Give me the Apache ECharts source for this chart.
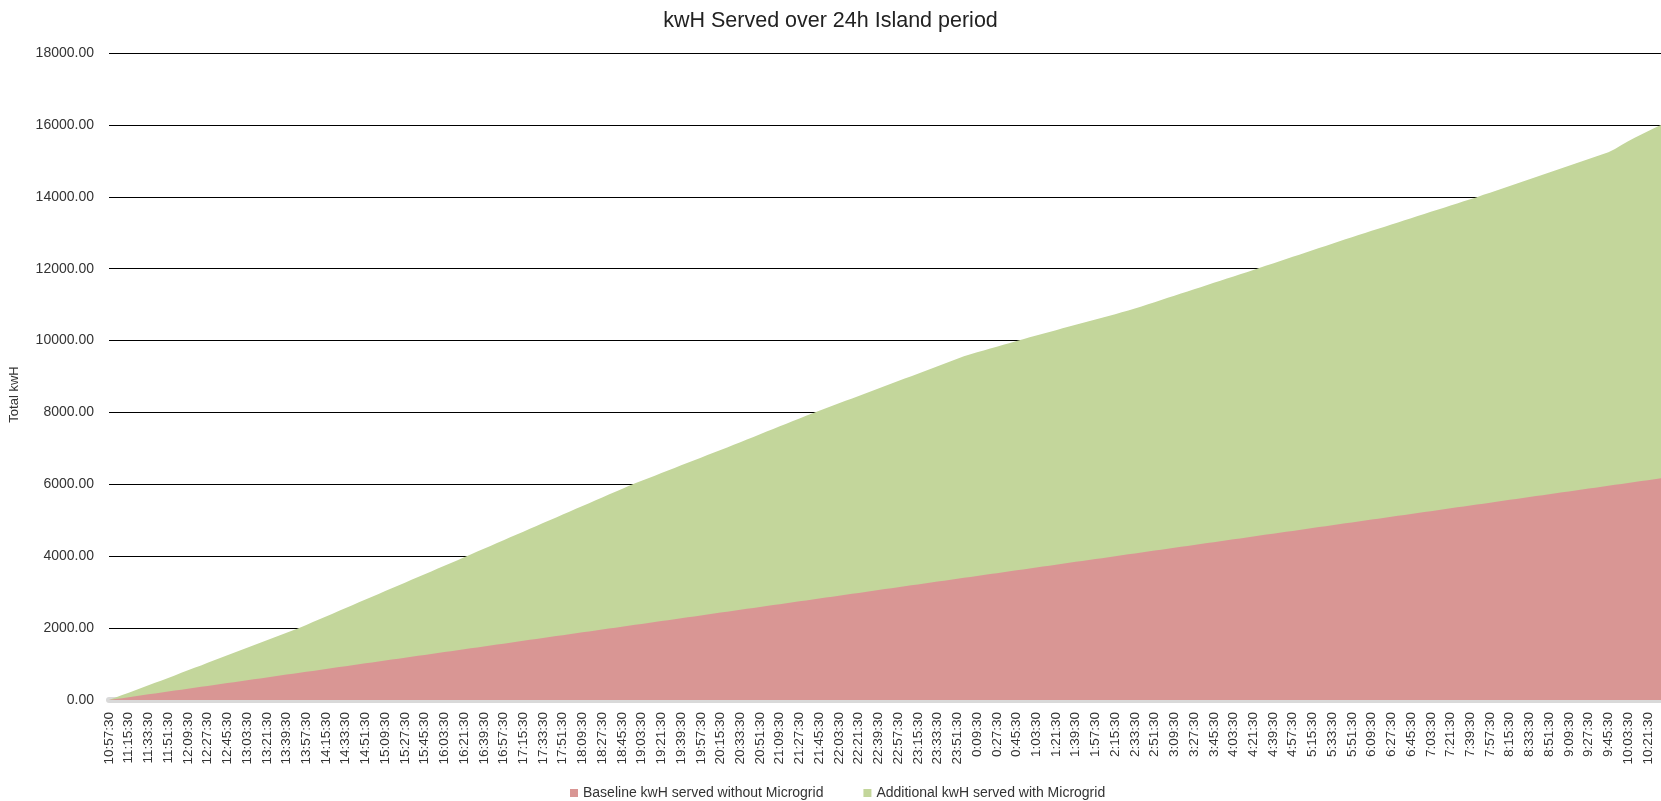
<!DOCTYPE html>
<html>
<head>
<meta charset="utf-8">
<title>kwH Served over 24h Island period</title>
<script src="https://cdn.jsdelivr.net/npm/echarts@6/dist/echarts.min.js"></script>
<style>
  html, body { margin: 0; padding: 0; background: #fff; }
  #chart { width: 1661px; height: 801px; }
</style>
</head>
<body>
<div id="chart"></div>
<script>
// time stamps, one every 6 minutes (labels shown every 3rd = every 18 min)
const times = [
  '10:57:30',
  '11:03:30','11:09:30','11:15:30','11:21:30','11:27:30','11:33:30','11:39:30','11:45:30','11:51:30','11:57:30',
  '12:03:30','12:09:30','12:15:30','12:21:30','12:27:30','12:33:30','12:39:30','12:45:30','12:51:30','12:57:30',
  '13:03:30','13:09:30','13:15:30','13:21:30','13:27:30','13:33:30','13:39:30','13:45:30','13:51:30','13:57:30',
  '14:03:30','14:09:30','14:15:30','14:21:30','14:27:30','14:33:30','14:39:30','14:45:30','14:51:30','14:57:30',
  '15:03:30','15:09:30','15:15:30','15:21:30','15:27:30','15:33:30','15:39:30','15:45:30','15:51:30','15:57:30',
  '16:03:30','16:09:30','16:15:30','16:21:30','16:27:30','16:33:30','16:39:30','16:45:30','16:51:30','16:57:30',
  '17:03:30','17:09:30','17:15:30','17:21:30','17:27:30','17:33:30','17:39:30','17:45:30','17:51:30','17:57:30',
  '18:03:30','18:09:30','18:15:30','18:21:30','18:27:30','18:33:30','18:39:30','18:45:30','18:51:30','18:57:30',
  '19:03:30','19:09:30','19:15:30','19:21:30','19:27:30','19:33:30','19:39:30','19:45:30','19:51:30','19:57:30',
  '20:03:30','20:09:30','20:15:30','20:21:30','20:27:30','20:33:30','20:39:30','20:45:30','20:51:30','20:57:30',
  '21:03:30','21:09:30','21:15:30','21:21:30','21:27:30','21:33:30','21:39:30','21:45:30','21:51:30','21:57:30',
  '22:03:30','22:09:30','22:15:30','22:21:30','22:27:30','22:33:30','22:39:30','22:45:30','22:51:30','22:57:30',
  '23:03:30','23:09:30','23:15:30','23:21:30','23:27:30','23:33:30','23:39:30','23:45:30','23:51:30','23:57:30',
  '0:03:30','0:09:30','0:15:30','0:21:30','0:27:30','0:33:30','0:39:30','0:45:30','0:51:30','0:57:30',
  '1:03:30','1:09:30','1:15:30','1:21:30','1:27:30','1:33:30','1:39:30','1:45:30','1:51:30','1:57:30',
  '2:03:30','2:09:30','2:15:30','2:21:30','2:27:30','2:33:30','2:39:30','2:45:30','2:51:30','2:57:30',
  '3:03:30','3:09:30','3:15:30','3:21:30','3:27:30','3:33:30','3:39:30','3:45:30','3:51:30','3:57:30',
  '4:03:30','4:09:30','4:15:30','4:21:30','4:27:30','4:33:30','4:39:30','4:45:30','4:51:30','4:57:30',
  '5:03:30','5:09:30','5:15:30','5:21:30','5:27:30','5:33:30','5:39:30','5:45:30','5:51:30','5:57:30',
  '6:03:30','6:09:30','6:15:30','6:21:30','6:27:30','6:33:30','6:39:30','6:45:30','6:51:30','6:57:30',
  '7:03:30','7:09:30','7:15:30','7:21:30','7:27:30','7:33:30','7:39:30','7:45:30','7:51:30','7:57:30',
  '8:03:30','8:09:30','8:15:30','8:21:30','8:27:30','8:33:30','8:39:30','8:45:30','8:51:30','8:57:30',
  '9:03:30','9:09:30','9:15:30','9:21:30','9:27:30','9:33:30','9:39:30','9:45:30','9:51:30','9:57:30',
  '10:03:30','10:09:30','10:15:30','10:21:30','10:27:30','10:33:30'
];

// cumulative kWh served without the microgrid (red)
const baseline = [
  0,
  26,52,78,105,131,157,183,209,235,261,
  288,314,340,366,392,418,444,471,497,523,
  549,575,601,627,654,680,706,732,758,784,
  810,836,863,889,915,941,967,993,1019,1046,
  1072,1098,1124,1150,1176,1202,1229,1255,1281,1307,
  1333,1359,1385,1412,1438,1464,1490,1516,1542,1568,
  1595,1621,1647,1673,1699,1725,1751,1778,1804,1830,
  1856,1882,1908,1934,1961,1987,2013,2039,2065,2091,
  2117,2143,2170,2196,2222,2248,2274,2300,2326,2353,
  2379,2405,2431,2457,2483,2509,2536,2562,2588,2614,
  2640,2666,2692,2719,2745,2771,2797,2823,2849,2875,
  2902,2928,2954,2980,3006,3032,3058,3085,3111,3137,
  3163,3189,3215,3241,3268,3294,3320,3346,3372,3398,
  3424,3450,3477,3503,3529,3555,3581,3607,3633,3660,
  3686,3712,3738,3764,3790,3816,3843,3869,3895,3921,
  3947,3973,3999,4026,4052,4078,4104,4130,4156,4182,
  4209,4235,4261,4287,4313,4339,4365,4392,4418,4444,
  4470,4496,4522,4548,4575,4601,4627,4653,4679,4705,
  4731,4757,4784,4810,4836,4862,4888,4914,4940,4967,
  4993,5019,5045,5071,5097,5123,5150,5176,5202,5228,
  5254,5280,5306,5333,5359,5385,5411,5437,5463,5489,
  5516,5542,5568,5594,5620,5646,5672,5699,5725,5751,
  5777,5803,5829,5855,5882,5908,5934,5960,5986,6012,
  6038,6064,6091,6117,6143,6169
];

// cumulative kWh served with the microgrid (top of the green area)
const withMicrogrid = [
  0,
  68,137,204,272,341,410,478,545,615,685,
  755,825,894,963,1033,1103,1173,1242,1312,1382,
  1452,1522,1590,1660,1730,1800,1870,1939,2011,2090,
  2169,2247,2324,2403,2481,2560,2639,2716,2794,2873,
  2952,3030,3107,3186,3264,3343,3422,3499,3577,3656,
  3735,3813,3890,3969,4049,4129,4208,4286,4366,4445,
  4525,4605,4683,4762,4842,4921,5001,5079,5159,5238,
  5318,5397,5476,5555,5635,5714,5794,5872,5952,6027,
  6099,6170,6241,6313,6385,6456,6528,6599,6670,6742,
  6814,6886,6956,7028,7101,7174,7248,7320,7394,7467,
  7541,7614,7686,7760,7834,7907,7979,8047,8116,8185,
  8254,8323,8391,8460,8529,8598,8667,8734,8803,8872,
  8941,9010,9078,9147,9216,9285,9354,9422,9491,9560,
  9622,9674,9725,9777,9829,9881,9933,9985,10037,10089,
  10141,10192,10241,10290,10340,10390,10439,10488,10537,10587,
  10637,10686,10735,10785,10834,10891,10950,11009,11069,11129,
  11188,11248,11307,11367,11426,11486,11546,11605,11665,11724,
  11784,11844,11903,11962,12023,12085,12146,12206,12267,12329,
  12390,12451,12511,12573,12634,12695,12756,12817,12876,12935,
  12993,13052,13110,13169,13228,13287,13345,13403,13462,13521,
  13580,13639,13696,13755,13814,13873,13932,13990,14053,14115,
  14178,14240,14302,14364,14427,14489,14552,14613,14676,14738,
  14801,14863,14925,14987,15050,15112,15175,15236,15332,15439,
  15545,15640,15734,15821,15910,16000
];

const seriesNames = ['Baseline kwH served without Microgrid', 'Additional kwH served with Microgrid'];

const chart = echarts.init(document.getElementById('chart'));
chart.setOption({
  animation: false,
  textStyle: { fontFamily: 'Liberation Sans, Arial, sans-serif' },
  title: {
    text: 'kwH Served over 24h Island period',
    left: 'center',
    top: 5,
    textStyle: { fontSize: 21.5, fontWeight: 'normal', color: '#222' }
  },
  legend: {
    data: seriesNames,
    left: 565,
    top: 781,
    icon: 'rect',
    itemWidth: 8,
    itemHeight: 8,
    itemGap: 40,
    textStyle: { fontSize: 14, color: '#333' }
  },
  grid: { left: 109, right: 0, top: 53, bottom: 101 },
  xAxis: {
    type: 'category',
    data: times,
    boundaryGap: false,
    offset: 3,
    axisLine: { lineStyle: { color: '#d9d9d9', width: 6 } },
    axisTick: { show: false },
    axisLabel: { interval: 2, rotate: 90, fontSize: 13.5, color: '#333', margin: 9 }
  },
  yAxis: {
    type: 'value',
    min: 0,
    max: 18000,
    interval: 2000,
    name: 'Total kwH',
    nameLocation: 'middle',
    nameGap: 88,
    nameTextStyle: { fontSize: 13, color: '#333', padding: [0, 36, 0, 0] },
    axisLine: { show: false },
    axisTick: { show: false },
    axisLabel: { fontSize: 14, color: '#333', margin: 15, formatter: v => v.toFixed(2) },
    splitLine: { lineStyle: { color: '#000', width: 1 } }
  },
  series: [
    {
      name: seriesNames[0],
      type: 'line',
      data: baseline,
      symbol: 'none',
      z: 3,
      itemStyle: { color: '#D99694' },
      lineStyle: { width: 0 },
      areaStyle: { color: '#D99694', opacity: 1 }
    },
    {
      // drawn from zero to the total; the red baseline area covers its lower part
      name: seriesNames[1],
      type: 'line',
      data: withMicrogrid,
      symbol: 'none',
      z: 2,
      itemStyle: { color: '#C3D69B' },
      lineStyle: { width: 0 },
      areaStyle: { color: '#C3D69B', opacity: 1 }
    }
  ]
});
</script>
</body>
</html>
